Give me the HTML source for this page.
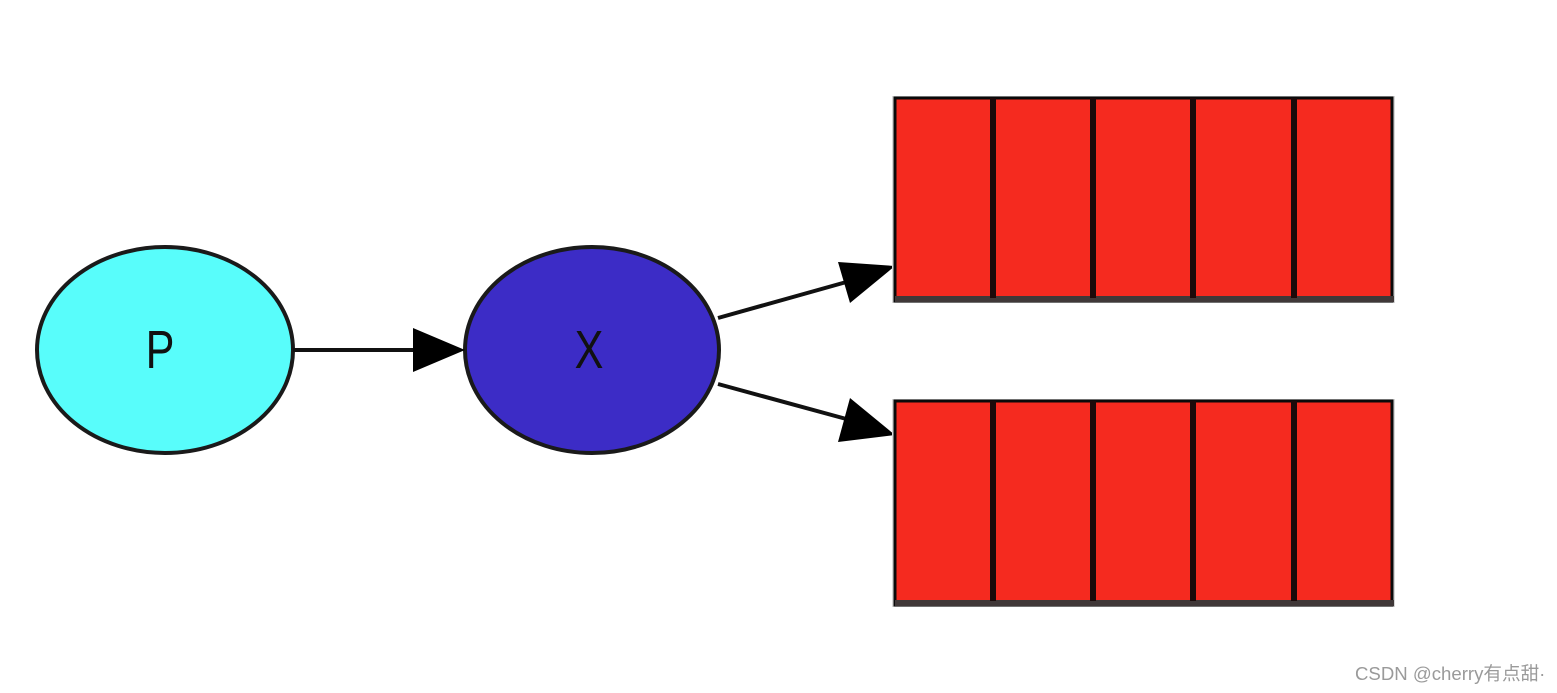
<!DOCTYPE html>
<html><head><meta charset="utf-8"><style>
html,body{margin:0;padding:0;background:#fff;width:1557px;height:693px;overflow:hidden}
</style></head><body>
<svg width="1557" height="693" xmlns="http://www.w3.org/2000/svg">
<ellipse cx="165" cy="350" rx="128" ry="103" fill="#58fdfb" stroke="#1a1a1a" stroke-width="4"/>
<text transform="translate(160,368) scale(0.8,1)" font-family="Liberation Sans, sans-serif" font-size="54" text-anchor="middle" fill="#111">P</text>
<ellipse cx="592" cy="350" rx="127" ry="103" fill="#3c2cc6" stroke="#1a1a1a" stroke-width="4"/>
<text transform="translate(589,368) scale(0.8,1)" font-family="Liberation Sans, sans-serif" font-size="54" text-anchor="middle" fill="#111">X</text>
<line x1="293" y1="350" x2="420" y2="350" stroke="#111" stroke-width="4"/>
<polygon points="413,328 465,350 413,372" fill="#000"/>
<line x1="718" y1="318" x2="850" y2="281" stroke="#111" stroke-width="4"/>
<polygon points="838,262 895,266 850,303" fill="#000"/>
<line x1="718" y1="384" x2="850" y2="420" stroke="#111" stroke-width="4"/>
<polygon points="850,398 895,435 838,442" fill="#000"/>
<g>
<rect x="893" y="97" width="501" height="205" fill="#f52a1f" stroke="#d8d8d8" stroke-width="2"/>
<rect x="895" y="98" width="497" height="203" fill="#f52a1f" stroke="#0a0a0a" stroke-width="3"/>
<rect x="895" y="296" width="499" height="6" fill="#403838"/>
<g fill="#1a0a0a"><rect x="990" y="98" width="6" height="200"/><rect x="1090" y="98" width="6" height="200"/><rect x="1190" y="98" width="6" height="200"/><rect x="1291" y="98" width="6" height="200"/></g>
</g>
<g>
<rect x="893" y="400" width="501" height="206" fill="#f52a1f" stroke="#d8d8d8" stroke-width="2"/>
<rect x="895" y="401" width="497" height="204" fill="#f52a1f" stroke="#0a0a0a" stroke-width="3"/>
<rect x="895" y="600" width="499" height="6" fill="#403838"/>
<g fill="#1a0a0a"><rect x="990" y="401" width="6" height="200"/><rect x="1090" y="401" width="6" height="200"/><rect x="1190" y="401" width="6" height="200"/><rect x="1291" y="401" width="6" height="200"/></g>
</g>
<text x="1355" y="680" font-family="Liberation Sans, Noto Sans CJK SC, sans-serif" font-size="18.6" fill="#9a9a9a">CSDN @cherry有点甜·</text>
</svg>
</body></html>
